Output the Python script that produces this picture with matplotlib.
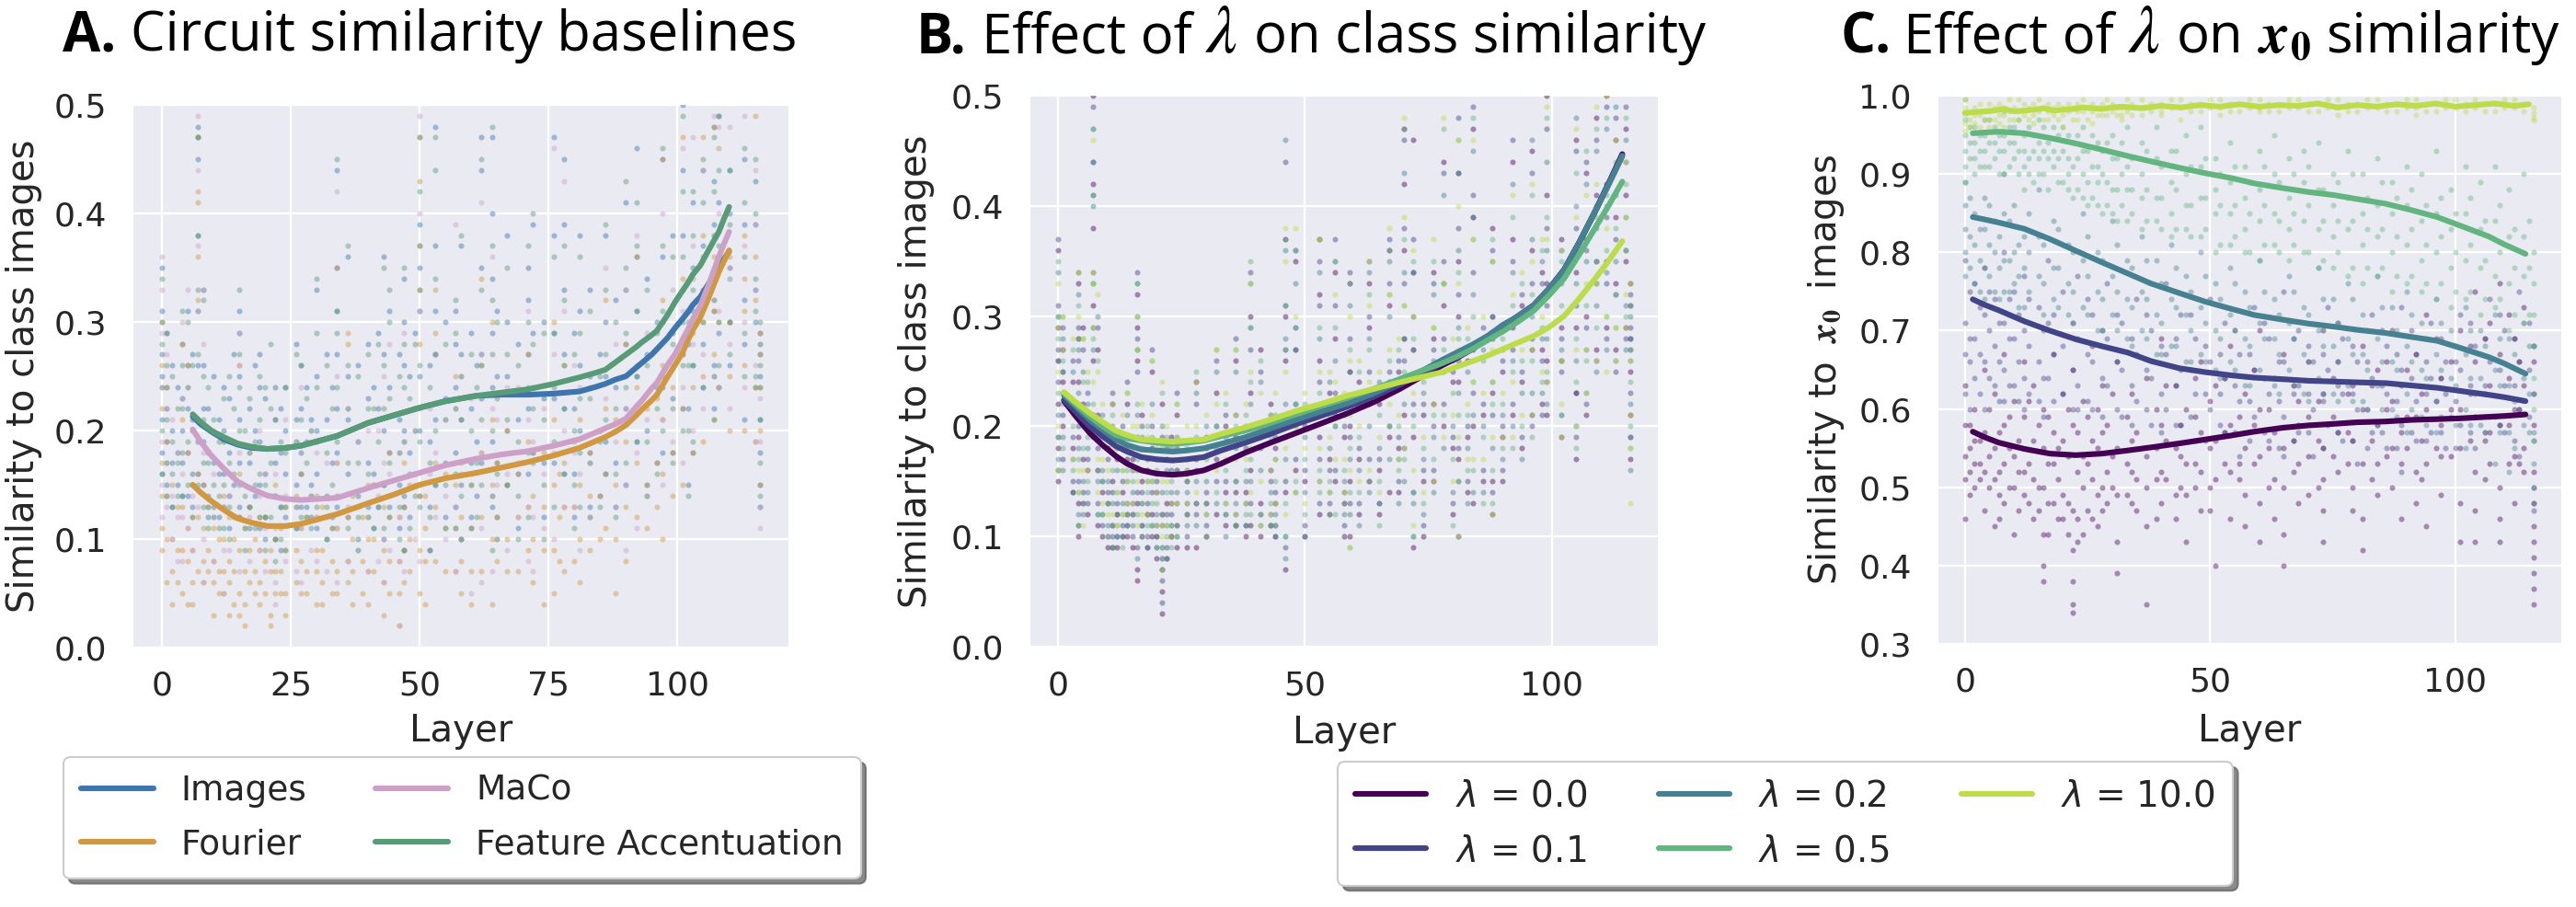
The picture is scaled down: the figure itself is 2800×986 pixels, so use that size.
# Similarity panels A, B, C - layer vs similarity with smoothed trend lines
import matplotlib
matplotlib.use("Agg")
import matplotlib.pyplot as plt

W, H = 2800, 986

##############
## Panel A trend lines
##############
a_layers = [6, 7.5, 9.6, 12, 14.7, 17.5, 20.5, 24, 27, 34, 40, 45, 50, 55, 61, 66, 71, 76, 81, 84, 86, 88, 90, 92, 93, 95, 96, 98, 99.6, 101, 102, 103, 104.4, 106, 108, 109, 110]
images_line = [.213, .206, .199, .192, .187, .184, .183, .184, .186, .195, .207, .214, .221, .227, .232, .233, .233, .234, .236, .240, .243, .247, .250, .258, .262, .270, .275, .285, .295, .303, .309, .316, .323, .335, .350, .358, .365]
fourier_line = [.150, .143, .135, .127, .119, .115, .112, .112, .114, .123, .133, .141, .150, .156, .161, .166, .171, .177, .184, .190, .194, .199, .205, .214, .219, .228, .233, .249, .261, .272, .283, .293, .304, .322, .346, .356, .366]
maco_line = [.201, .190, .177, .165, .153, .146, .140, .137, .136, .138, .147, .154, .161, .168, .174, .178, .181, .186, .192, .198, .202, .206, .211, .222, .227, .239, .244, .260, .271, .284, .293, .303, .315, .334, .360, .372, .383]
accent_line = [.215, .208, .200, .194, .188, .185, .183, .184, .186, .195, .207, .214, .221, .227, .232, .235, .238, .243, .249, .253, .256, .263, .270, .277, .281, .288, .292, .306, .319, .329, .336, .344, .352, .366, .383, .395, .406]

##############
## Panel A points, layer: values
##############
images_pts = {
    0: [.35, .31, .27, .25, .21, .18, .16], 1: [.29, .24, .22, .19, .15], 4: [.28, .23, .20, .17, .14],
    5: [.31, .26, .22, .18, .14], 7: [.48, .47, .45, .38, .31, .26, .19, .16], 8: [.33, .26, .22, .19, .15],
    12: [.24, .20, .16, .13], 15: [.31, .29, .25, .21, .17, .13], 19: [.27, .24, .19, .15, .11],
    22: [.24, .21, .17, .14, .10], 24: [.24, .20, .16, .12], 27: [.26, .22, .18, .13], 30: [.33, .25, .20, .16, .11],
    34: [.44, .35, .31, .27, .22, .18, .13], 36: [.36, .25, .21, .16, .12], 40: [.28, .23, .17, .13],
    43: [.36, .27, .20, .15, .10], 44: [.31, .24, .18, .13], 47: [.34, .30, .26, .20, .14, .09],
    50: [.39, .35, .31, .25, .20, .14], 53: [.48, .37, .31, .27, .21, .15], 57: [.31, .28, .24, .18, .13],
    58: [.37, .27, .21, .15, .10], 62: [.47, .44, .35, .27, .23, .17], 64: [.47, .40, .34, .29, .24, .19, .13],
    67: [.38, .30, .25, .20, .15], 71: [.35, .32, .27, .22, .16], 72: [.39, .29, .24, .18], 76: [.47, .38, .29, .23, .17],
    78: [.45, .39, .33, .27, .22, .16], 81: [.38, .31, .26, .20], 86: [.38, .30, .25, .19], 90: [.41, .33, .28, .22, .15],
    92: [.46, .36, .31, .25, .19], 97: [.45, .36, .30, .24, .18], 101: [.50, .44, .38, .33, .27, .22],
    103: [.41, .35, .31, .26, .18], 105: [.44, .37, .33, .28, .24], 107: [.48, .43, .39, .31, .26, .22],
    108: [.49, .41, .36, .29, .24], 110: [.44, .40, .35, .30, .26], 113: [.45, .39, .32, .28, .21],
    115: [.43, .39, .33, .30, .24], 116: [.29, .27, .25, .21, .18, .15, .13],
}
images_more = {
    2: [.26, .20, .17, .13], 3: [.24, .18, .15], 6: [.27, .21, .16, .13], 9: [.22, .18, .14, .12], 10: [.25, .17, .13],
    11: [.21, .16, .12], 13: [.23, .18, .14, .11], 14: [.27, .19, .15], 17: [.22, .17, .13, .11], 18: [.26, .20, .14],
    20: [.23, .16, .12, .10], 23: [.22, .18, .13, .09], 26: [.28, .21, .15, .11], 28: [.24, .19, .13], 29: [.21, .15, .12],
    32: [.27, .21, .14, .10], 33: [.24, .17, .12], 38: [.26, .19, .14, .10], 41: [.24, .16, .11], 42: [.29, .22, .13],
    46: [.27, .21, .15, .11], 48: [.25, .18, .12], 49: [.29, .22, .16], 52: [.26, .19, .13, .09], 55: [.30, .23, .17, .12],
    60: [.29, .22, .17, .12], 61: [.26, .19, .14], 65: [.31, .25, .17, .12], 69: [.28, .21, .16, .11], 74: [.30, .23, .17, .12],
    80: [.29, .22, .16, .12], 83: [.33, .25, .18, .13], 85: [.27, .20, .14], 88: [.32, .24, .17, .13], 94: [.34, .27, .20, .15],
    96: [.30, .24, .17], 99: [.38, .29, .23, .18], 102: [.31, .28, .22, .15],
}
fourier_pts = {
    0: [.30, .26, .22, .17, .14, .11, .09], 1: [.24, .19, .14, .10, .06], 4: [.28, .21, .13, .09, .05],
    5: [.26, .18, .11, .08, .04], 7: [.47, .42, .41, .36, .32, .16, .12, .07], 8: [.15, .11, .08, .06],
    12: [.14, .10, .07, .05], 15: [.26, .16, .12, .09, .05, .03], 19: [.12, .09, .06, .04], 22: [.15, .10, .07, .05],
    24: [.13, .09, .05, .03], 27: [.16, .11, .08, .05], 30: [.14, .12, .09, .07, .04], 34: [.35, .17, .11, .07, .05],
    36: [.29, .28, .12, .08, .06], 40: [.15, .10, .07, .04], 43: [.13, .09, .06, .03], 44: [.18, .12, .08, .05],
    47: [.17, .13, .09, .06], 50: [.47, .43, .37, .33, .28, .14, .09, .05], 53: [.33, .29, .17, .13, .08],
    57: [.25, .15, .11, .07], 58: [.17, .12, .08, .05], 62: [.34, .26, .18, .12, .07], 64: [.30, .21, .15, .10, .04],
    67: [.20, .15, .10, .07], 71: [.27, .19, .13, .09], 72: [.18, .14, .10, .06], 76: [.30, .21, .15, .09, .05],
    78: [.26, .17, .13, .07], 81: [.21, .15, .10, .06], 86: [.32, .22, .16, .11], 90: [.28, .19, .13, .08],
    92: [.36, .24, .17, .12], 97: [.45, .32, .26, .21, .16, .10], 101: [.47, .34, .27, .22, .15], 103: [.34, .29, .24, .18],
    105: [.47, .38, .30, .25, .19], 107: [.48, .36, .31, .27, .21], 108: [.46, .35, .30, .24], 110: [.36, .30, .25, .20],
    113: [.38, .34, .31, .26, .20], 115: [.49, .36, .32, .24, .19], 116: [.29, .27, .24, .20, .15],
}
fourier_more = {
    2: [.15, .10, .07, .04], 3: [.13, .09, .06], 6: [.12, .09, .06, .04], 9: [.13, .09, .07], 10: [.11, .08, .06, .03],
    11: [.10, .07, .05], 13: [.12, .08, .06, .03], 14: [.10, .07, .04], 16: [.11, .07, .04, .02], 17: [.13, .09, .06],
    18: [.10, .07, .05], 20: [.12, .08, .05], 21: [.09, .07, .03, .02], 23: [.11, .07, .05], 26: [.14, .09, .06],
    28: [.12, .07, .05], 31: [.13, .09, .06, .04], 33: [.11, .08, .05], 37: [.14, .10, .07, .04], 39: [.12, .08, .05],
    41: [.15, .10, .07], 46: [.12, .08, .05, .02], 48: [.15, .10, .07], 51: [.14, .11, .08, .04], 55: [.16, .11, .07],
    60: [.15, .11, .07, .04], 65: [.17, .12, .08], 69: [.16, .12, .07], 74: [.18, .13, .09, .04], 77: [.16, .12, .08],
    80: [.19, .13, .08], 83: [.18, .14, .09], 85: [.20, .14, .10], 88: [.21, .15, .10, .05], 94: [.22, .15, .11],
    96: [.23, .17, .13], 99: [.24, .18, .14],
}
maco_pts = {
    0: [.36, .33, .29, .24, .19, .15, .12], 1: [.27, .22, .17, .13], 4: [.30, .23, .16, .12, .08], 5: [.33, .24, .18, .11],
    7: [.49, .44, .37, .31, .19, .13], 8: [.33, .28, .18, .10, .06], 12: [.19, .13, .09, .05], 15: [.29, .26, .18, .12, .07],
    19: [.20, .14, .09], 22: [.16, .11, .06, .04], 24: [.21, .14, .08], 27: [.24, .16, .11, .06], 30: [.18, .12, .08],
    34: [.42, .25, .17, .11, .06], 36: [.22, .13, .08], 40: [.20, .12, .07], 43: [.25, .17, .10, .06], 44: [.28, .16, .09],
    47: [.29, .19, .13, .07], 50: [.49, .40, .31, .22, .15, .08], 53: [.27, .18, .12], 57: [.39, .22, .13, .07],
    58: [.25, .16, .10], 62: [.41, .27, .18, .11, .06], 64: [.36, .22, .14, .07], 67: [.24, .16, .09], 71: [.31, .21, .13, .08],
    72: [.19, .12, .07], 76: [.46, .27, .18, .10], 78: [.43, .31, .20, .13], 81: [.24, .16, .09], 86: [.35, .23, .16],
    90: [.33, .22, .15, .09], 92: [.38, .26, .18, .11], 97: [.40, .30, .21, .15], 101: [.46, .31, .24, .17],
    103: [.47, .37, .28, .20], 105: [.44, .33, .27, .22], 107: [.49, .38, .32, .25], 108: [.48, .40, .31, .24],
    110: [.48, .35, .28, .22], 113: [.49, .37, .30, .24], 115: [.44, .39, .33, .26, .19], 116: [.28, .23, .19, .13, .11],
}
maco_more = {
    2: [.21, .14, .10], 3: [.18, .12, .08], 6: [.20, .14, .09], 10: [.16, .12, .08], 13: [.19, .14, .09], 17: [.18, .12, .08],
    20: [.16, .11, .07], 26: [.19, .13, .07], 29: [.20, .14, .09], 32: [.17, .12, .07], 38: [.19, .13, .09], 42: [.20, .14, .08],
    46: [.18, .12, .08, .02], 49: [.20, .15, .10], 52: [.22, .16, .09], 55: [.21, .14, .10], 60: [.23, .16, .11, .05],
    65: [.21, .15, .10], 69: [.24, .17, .12], 74: [.22, .16, .11], 80: [.26, .18, .13], 83: [.24, .17, .12], 88: [.28, .19, .13],
    94: [.29, .21, .14], 99: [.33, .26, .19],
}
accent_pts = {
    0: [.34, .30, .28, .24, .20, .16], 1: [.29, .26, .21, .17, .14], 4: [.31, .26, .22, .18, .14], 5: [.30, .24, .19, .15],
    7: [.47, .38, .33, .27, .21, .15], 8: [.32, .25, .21, .17, .13], 12: [.23, .19, .15, .11], 15: [.33, .27, .24, .20, .15, .12],
    19: [.25, .21, .16, .12], 21: [.28, .22, .17, .12], 24: [.24, .18, .13, .09], 27: [.26, .21, .16, .12],
    30: [.34, .29, .24, .19, .13], 34: [.45, .31, .29, .24, .19, .14], 36: [.37, .26, .22, .17, .11], 40: [.27, .22, .16, .12],
    43: [.35, .26, .22, .15, .11], 44: [.33, .30, .23, .17, .12], 47: [.35, .28, .24, .19, .13, .09], 50: [.47, .42, .37, .33, .26, .19, .13],
    53: [.47, .44, .34, .27, .20, .15], 57: [.32, .29, .22, .16, .11], 58: [.38, .25, .21, .14, .10], 62: [.45, .33, .26, .21, .15],
    64: [.48, .37, .32, .27, .20, .14, .09], 67: [.35, .27, .21, .15], 71: [.37, .30, .24, .18, .12], 72: [.40, .28, .22, .17],
    76: [.36, .29, .24, .19, .13], 78: [.37, .32, .26, .22, .16], 81: [.36, .29, .23, .18, .13], 86: [.39, .33, .27, .21, .16],
    90: [.43, .35, .29, .24, .17], 92: [.41, .37, .31, .25, .19], 97: [.46, .37, .31, .25, .20], 101: [.49, .42, .36, .30, .26, .20],
    103: [.42, .38, .33, .26, .19], 105: [.45, .41, .36, .30, .24], 107: [.47, .42, .38, .32, .25, .21], 108: [.49, .44, .37, .30, .26],
    110: [.44, .39, .34, .30, .27], 113: [.46, .41, .36, .29, .25], 115: [.45, .40, .34, .31, .25], 116: [.30, .28, .26, .24, .21, .17, .14],
}
accent_more = {
    2: [.25, .19, .16, .13], 3: [.22, .17, .14], 6: [.26, .20, .15, .12], 9: [.24, .17, .13, .11], 10: [.21, .15, .12],
    11: [.19, .14, .11], 13: [.25, .17, .13, .10], 14: [.22, .16, .12], 16: [.20, .14, .11, .09], 17: [.23, .18, .13],
    18: [.19, .15, .11], 20: [.24, .15, .12, .09], 22: [.21, .14, .10, .08], 23: [.19, .13, .10], 26: [.27, .19, .13, .11],
    28: [.23, .17, .12], 29: [.20, .14, .11], 32: [.26, .18, .13, .10], 33: [.22, .15, .11], 38: [.25, .17, .12, .09],
    41: [.22, .15, .11], 42: [.28, .19, .13], 46: [.25, .18, .13, .10], 48: [.23, .16, .11], 49: [.28, .20, .14],
    52: [.24, .17, .12, .09], 55: [.28, .21, .15, .11], 60: [.27, .20, .15, .11], 61: [.24, .17, .12], 65: [.30, .23, .16, .10],
    69: [.26, .19, .14, .10], 74: [.29, .21, .15, .10], 80: [.27, .20, .15, .11], 83: [.31, .23, .17, .12], 85: [.25, .19, .13],
    88: [.30, .22, .16, .12], 94: [.33, .26, .19, .14], 96: [.29, .22, .16], 99: [.36, .28, .22, .17], 102: [.30, .26, .20, .14],
}

##############
## Panel B trend lines
##############
b_layers = [1.2, 3.8, 6.4, 9, 11.7, 14, 16.9, 20, 23.2, 26, 29.5, 33, 37.9, 43, 48.3, 53, 58.8, 64, 69.3, 74, 77.7, 80.8, 83.9, 87, 90.1, 93.2, 96.4, 99.5, 102.5, 105.6, 108.8, 111.5, 114.3]
b_lam0_line = [.223, .208, .194, .183, .173, .166, .160, .157, .156, .157, .160, .166, .176, .185, .194, .202, .212, .222, .234, .246, .255, .262, .270, .280, .290, .300, .310, .325, .342, .367, .395, .420, .447]
b_lam1_line = [.224, .212, .200, .191, .182, .177, .172, .170, .169, .170, .172, .178, .185, .193, .202, .209, .218, .227, .238, .248, .257, .264, .272, .281, .291, .300, .310, .325, .342, .367, .395, .420, .446]
b_lam2_line = [.228, .217, .206, .197, .188, .183, .179, .178, .177, .178, .180, .184, .190, .198, .206, .213, .221, .230, .241, .251, .260, .267, .274, .282, .292, .300, .310, .325, .342, .367, .395, .419, .445]
b_lam5_line = [.230, .219, .209, .200, .192, .189, .187, .185, .184, .185, .187, .191, .196, .203, .211, .218, .226, .234, .243, .251, .257, .263, .270, .278, .286, .295, .305, .319, .334, .356, .380, .400, .422]
b_lam10_line = [.231, .221, .212, .204, .196, .192, .188, .187, .186, .187, .188, .193, .199, .206, .214, .220, .228, .234, .240, .245, .249, .254, .259, .264, .270, .276, .282, .290, .300, .316, .334, .350, .368]

##############
## Panel B points, layer: values
##############
b_lam0_pts = {
    0: [.36, .29, .26, .22, .18, .15], 1: [.27, .24, .20], 4: [.33, .28, .24, .19, .13, .10], 5: [.29, .22, .17, .13],
    7: [.50, .42, .38, .31, .26, .21], 8: [.27, .21, .16, .11], 11: [.22, .15, .11, .09], 14: [.22, .17, .12, .10],
    16: [.32, .29, .26, .18, .13, .07, .06], 19: [.25, .18, .12, .10], 21: [.22, .12, .07, .05, .03], 24: [.21, .16, .11, .09],
    28: [.24, .17, .13, .09], 32: [.23, .17, .12], 36: [.26, .19, .14, .11], 39: [.30, .23, .16, .11], 41: [.27, .20, .13, .10],
    46: [.37, .30, .26, .20, .14, .07], 48: [.35, .27, .21, .16], 53: [.37, .32, .26, .19, .12], 56: [.34, .28, .21, .15],
    59: [.33, .25, .20, .15, .10], 63: [.33, .29, .22, .15], 67: [.36, .31, .24, .19, .14], 70: [.47, .42, .36, .28, .21],
    72: [.46, .34, .27, .19, .09], 76: [.34, .28, .22, .15], 78: [.44, .31, .26, .20], 81: [.43, .35, .30, .24, .17, .10],
    84: [.47, .39, .27, .20, .13], 88: [.38, .30, .23, .15, .12], 92: [.44, .37, .29, .21], 96: [.45, .36, .27, .21],
    99: [.50, .41, .33, .26, .21], 102: [.37, .29, .26, .19], 105: [.46, .34, .29, .23, .17], 107: [.43, .37, .30, .21],
    109: [.48, .41, .35, .27], 111: [.50, .42, .35, .29], 113: [.46, .39, .33, .27], 115: [.47, .41, .35, .29],
    116: [.33, .31, .28, .25, .21, .17],
}
b_lam0_more = {
    3: [.24, .18, .14], 6: [.21, .16, .12], 9: [.20, .14, .10], 10: [.18, .13, .09], 12: [.17, .12, .09], 13: [.19, .14, .10],
    15: [.17, .12, .09], 17: [.21, .15, .10], 18: [.16, .12, .09], 20: [.14, .10, .08], 22: [.17, .13, .08], 23: [.19, .13, .10],
    26: [.15, .12, .09], 30: [.18, .13, .10], 34: [.20, .14, .11], 38: [.19, .14, .10], 43: [.22, .16, .11], 44: [.18, .13, .10],
    50: [.20, .15, .10], 55: [.23, .17, .12], 58: [.19, .13, .10], 61: [.24, .17, .12], 65: [.22, .16, .12], 69: [.25, .18, .14],
    74: [.21, .15, .10], 80: [.24, .18, .12], 83: [.26, .19, .14], 86: [.28, .21, .15], 90: [.25, .19, .15], 94: [.31, .24, .18],
    98: [.34, .27, .22],
}
b_lam1_pts = {
    0: [.37, .31, .27, .24, .19, .16], 1: [.29, .25, .21, .17], 4: [.34, .29, .26, .20, .15, .11], 5: [.27, .21, .14],
    7: [.49, .44, .41, .34, .29, .19], 8: [.29, .18, .13], 11: [.23, .14, .10], 14: [.24, .18, .13, .11], 16: [.34, .28, .25, .19, .14, .09],
    19: [.27, .20, .14], 21: [.19, .11, .08, .06, .04], 24: [.23, .18, .13], 28: [.22, .16, .12], 32: [.26, .20, .15],
    36: [.28, .21, .15, .12], 39: [.34, .27, .20, .13], 41: [.25, .18, .12], 46: [.44, .31, .27, .21, .15, .09],
    48: [.36, .29, .22, .17], 53: [.35, .31, .24, .17, .13], 56: [.37, .31, .23, .16], 59: [.34, .28, .19, .13],
    63: [.35, .30, .25, .17], 67: [.37, .33, .25, .20], 70: [.46, .38, .33, .26, .18], 72: [.37, .30, .22, .14],
    76: [.33, .27, .20, .16], 78: [.43, .35, .28, .22], 81: [.48, .38, .32, .26, .18], 84: [.49, .41, .34, .23],
    88: [.36, .28, .21, .14], 92: [.46, .35, .27, .22], 96: [.43, .33, .28, .20], 99: [.47, .38, .31, .24],
    102: [.36, .28, .25], 105: [.45, .38, .31, .23, .19], 107: [.44, .36, .29, .22], 109: [.46, .40, .33, .26],
    111: [.49, .39, .33, .28], 113: [.48, .37, .32, .25], 115: [.49, .44, .36, .28], 116: [.32, .29, .27, .23, .19],
}
b_lam1_more = {
    3: [.26, .19, .15], 6: [.23, .17, .13], 9: [.19, .15, .11], 10: [.17, .14, .10], 12: [.18, .13, .10], 13: [.20, .15, .11],
    15: [.16, .13, .10], 17: [.20, .14, .11], 18: [.17, .13, .10], 20: [.15, .11, .09], 22: [.18, .12, .09], 23: [.16, .12, .10],
    26: [.16, .13, .10], 30: [.19, .14, .11], 34: [.21, .15, .12], 38: [.18, .13, .11], 43: [.21, .15, .12], 44: [.19, .14, .11],
    50: [.21, .16, .11], 55: [.22, .16, .13], 58: [.20, .14, .11], 61: [.23, .18, .13], 65: [.23, .17, .13], 69: [.26, .19, .15],
    74: [.22, .16, .11], 80: [.25, .19, .13], 83: [.27, .20, .15], 86: [.29, .22, .16], 90: [.26, .20, .16], 94: [.32, .25, .19],
    98: [.33, .26, .21],
}
b_lam2_pts = {
    0: [.34, .30, .26, .21, .17], 1: [.28, .25, .19, .16], 4: [.32, .27, .23, .18, .12], 5: [.25, .20, .15, .12],
    7: [.47, .44, .40, .33, .27, .20], 8: [.30, .19, .15, .12], 11: [.20, .13, .09], 14: [.21, .15, .11], 16: [.33, .30, .27, .21, .16, .08],
    19: [.22, .15, .11], 21: [.20, .14, .09, .07], 24: [.19, .14, .10], 28: [.23, .15, .11], 32: [.25, .18, .13], 36: [.25, .18, .13, .11],
    39: [.33, .29, .22, .15], 41: [.24, .16, .11], 46: [.46, .36, .28, .22, .17, .10, .08], 48: [.33, .27, .20, .14],
    53: [.34, .28, .21, .15], 56: [.35, .26, .20], 59: [.31, .25, .17, .12], 63: [.34, .28, .20, .14], 67: [.35, .30, .23, .17],
    70: [.43, .34, .28, .22, .15], 72: [.34, .27, .21, .13, .10], 76: [.32, .26, .19, .14], 78: [.41, .33, .25, .18],
    81: [.43, .36, .29, .23, .15], 84: [.45, .39, .32, .21, .14], 88: [.35, .30, .24, .18], 92: [.42, .34, .26, .20],
    96: [.46, .37, .30, .23], 99: [.44, .36, .28, .22], 102: [.33, .27, .21], 105: [.48, .40, .33, .26, .20],
    107: [.42, .35, .27, .23], 109: [.45, .38, .31, .25], 111: [.47, .40, .34, .27], 113: [.49, .41, .35, .26], 115: [.46, .39, .31, .27],
    116: [.30, .28, .26, .22, .19, .16],
}
b_lam2_more = {
    3: [.25, .17, .14], 6: [.22, .18, .14], 9: [.21, .16, .12], 10: [.19, .15, .11], 12: [.16, .12, .10], 13: [.18, .13, .10],
    15: [.18, .14, .11], 17: [.19, .13, .11], 18: [.15, .12, .09], 20: [.17, .12, .10], 22: [.16, .11, .08], 23: [.18, .14, .11],
    26: [.17, .14, .11], 30: [.20, .15, .12], 34: [.19, .13, .10], 38: [.20, .15, .11], 43: [.20, .14, .11], 44: [.17, .12, .10],
    50: [.19, .14, .10], 55: [.24, .18, .14], 58: [.21, .15, .12], 61: [.22, .16, .11], 65: [.24, .18, .13], 69: [.24, .17, .13],
    74: [.23, .17, .12], 80: [.26, .20, .14], 83: [.25, .18, .13], 86: [.27, .20, .14], 90: [.27, .21, .17], 94: [.30, .23, .17],
    98: [.35, .28, .23],
}
b_lam5_pts = {
    0: [.35, .30, .28, .23, .19, .16], 1: [.30, .26, .22, .18], 4: [.31, .28, .22, .17, .14, .11], 5: [.28, .24, .18, .13],
    7: [.47, .41, .33, .28, .22], 8: [.26, .20, .16, .12], 11: [.21, .16, .11, .09], 14: [.23, .16, .12], 16: [.33, .27, .22, .17, .12],
    19: [.26, .19, .13, .11], 21: [.23, .18, .12, .09, .08], 24: [.22, .16, .11, .10], 28: [.25, .19, .13], 32: [.27, .20, .14],
    36: [.27, .20, .15, .11], 39: [.35, .29, .24, .17, .12], 41: [.26, .19, .12], 46: [.37, .31, .27, .19, .13, .10],
    48: [.36, .29, .22, .15], 53: [.37, .29, .23, .16, .14], 56: [.35, .29, .20, .12], 59: [.33, .27, .18, .14, .09],
    63: [.32, .27, .22, .15], 67: [.36, .32, .26, .20], 70: [.47, .37, .31, .25, .17], 72: [.35, .28, .20, .14, .10],
    76: [.35, .29, .21, .17], 78: [.47, .33, .27, .21], 81: [.46, .34, .28, .21, .15], 84: [.48, .37, .30, .24, .16],
    88: [.37, .28, .22, .16, .13], 92: [.39, .31, .25, .18], 96: [.41, .32, .26, .19], 99: [.48, .39, .32, .25],
    102: [.35, .31, .26, .21], 105: [.43, .36, .28, .24, .18], 107: [.45, .38, .31, .26], 109: [.47, .39, .35, .29],
    111: [.48, .41, .36, .30], 113: [.44, .38, .32, .29], 115: [.48, .42, .36, .30], 116: [.31, .27, .24, .20, .18],
}
b_lam5_more = {
    3: [.27, .20, .16], 6: [.24, .19, .15], 9: [.20, .15, .12], 10: [.18, .13, .10], 12: [.19, .14, .11], 13: [.16, .12, .09],
    15: [.19, .15, .12], 17: [.18, .13, .10], 18: [.20, .14, .11], 20: [.16, .13, .09], 22: [.19, .14, .10], 23: [.15, .11, .09],
    26: [.18, .15, .12], 30: [.17, .13, .10], 34: [.22, .16, .12], 38: [.21, .16, .12], 43: [.19, .13, .11], 44: [.21, .15, .11],
    50: [.22, .17, .12], 55: [.21, .15, .12], 58: [.22, .16, .13], 61: [.25, .19, .14], 65: [.21, .15, .11], 69: [.27, .20, .16],
    74: [.24, .18, .13], 80: [.23, .17, .11], 83: [.28, .21, .16], 86: [.26, .19, .13], 90: [.28, .22, .18], 94: [.33, .26, .20],
    98: [.36, .29, .24],
}
b_lam10_pts = {
    0: [.33, .29, .25, .20, .16], 1: [.30, .27, .23], 4: [.34, .30, .22, .16, .14], 5: [.28, .21, .16, .11],
    7: [.46, .34, .33, .29, .24], 8: [.32, .25, .17, .14], 11: [.22, .18, .12], 14: [.23, .15, .13], 16: [.30, .27, .20, .15, .11],
    19: [.26, .21, .15], 21: [.24, .15, .11, .10, .07], 24: [.22, .19, .13], 28: [.24, .20, .14], 32: [.27, .22, .16],
    36: [.27, .21, .17, .12], 39: [.33, .25, .18, .14], 41: [.23, .15, .11], 46: [.38, .35, .25, .18, .12],
    48: [.38, .30, .20, .14], 53: [.37, .25, .18, .15], 56: [.32, .24, .17], 59: [.30, .26, .21, .16, .09],
    63: [.35, .31, .24, .16], 67: [.38, .32, .27, .22], 70: [.48, .39, .31, .24, .18], 72: [.36, .30, .23, .16, .11],
    76: [.37, .29, .22, .15], 78: [.48, .33, .26, .19], 81: [.46, .40, .33, .27, .19, .10], 84: [.46, .37, .24, .17],
    88: [.35, .27, .24, .19, .12], 92: [.41, .32, .24, .19], 96: [.42, .35, .27, .21], 99: [.49, .37, .29, .24],
    102: [.36, .26, .22, .19], 105: [.47, .39, .27, .20], 107: [.41, .33, .27, .23], 109: [.49, .42, .33, .26],
    111: [.50, .38, .30, .25], 113: [.46, .36, .29, .26], 115: [.44, .39, .32, .29], 116: [.33, .26, .21, .18, .13],
}
b_lam10_more = {
    3: [.28, .21, .17], 6: [.25, .20, .16], 9: [.22, .17, .13], 10: [.20, .16, .12], 12: [.18, .14, .11], 13: [.21, .16, .12],
    15: [.20, .16, .13], 17: [.22, .16, .12], 18: [.19, .15, .12], 20: [.18, .14, .11], 22: [.20, .15, .11], 23: [.17, .13, .10],
    26: [.20, .16, .13], 30: [.21, .16, .12], 34: [.23, .17, .13], 38: [.22, .17, .13], 43: [.21, .16, .12], 44: [.23, .17, .13],
    50: [.23, .18, .13], 55: [.25, .19, .14], 58: [.23, .17, .14], 61: [.26, .20, .15], 65: [.25, .19, .14], 69: [.28, .21, .17],
    74: [.25, .19, .14], 80: [.28, .21, .15], 83: [.29, .22, .17], 86: [.30, .23, .17], 90: [.29, .23, .19], 94: [.34, .27, .21],
    98: [.37, .30, .25],
}

##############
## Panel C trend lines
##############
c_layers = [1.6, 4, 6.9, 9.5, 12.1, 17.3, 22.6, 28, 33.2, 38, 43.7, 49, 54.2, 59, 64.8, 70, 75.3, 80, 85.8, 91, 96.3, 101, 106.9, 110, 114.3]
c_lam0_line = [.571, .564, .557, .553, .549, .543, .541, .543, .547, .551, .556, .561, .566, .571, .576, .579, .581, .583, .584, .586, .587, .588, .590, .591, .593]
c_lam1_line = [.740, .733, .726, .719, .712, .700, .689, .680, .672, .661, .652, .647, .643, .640, .638, .636, .635, .634, .633, .630, .627, .623, .618, .615, .610]
c_lam2_line = [.845, .842, .838, .834, .830, .817, .802, .787, .773, .760, .748, .737, .728, .720, .714, .709, .705, .701, .697, .692, .687, .678, .666, .658, .645]
c_lam5_line = [.952, .953, .954, .953, .952, .946, .939, .931, .923, .916, .908, .901, .895, .888, .882, .877, .873, .868, .862, .854, .845, .834, .820, .810, .798]
c_lam10_layers = [0, 2, 4, 6, 8, 10, 12, 14, 16, 18, 20, 22, 24, 26, 28, 30, 32, 36, 40, 44, 48, 52, 56, 60, 64, 68, 72, 76, 80, 84, 88, 92, 96, 100, 104, 108, 112, 115]
c_lam10_line = [.978, .979, .980, .981, .983, .980, .981, .982, .984, .981, .982, .983, .985, .984, .983, .985, .986, .984, .987, .985, .988, .986, .989, .986, .988, .987, .990, .985, .988, .986, .989, .987, .990, .986, .988, .990, .987, .989]

##############
## Panel C points, layer: values
##############
c_lam0_pts = {
    0: [.63, .58, .54, .51, .46], 2: [.60, .56, .53, .50], 4: [.65, .57, .52, .47], 6: [.62, .55, .51, .45],
    8: [.67, .58, .53, .48], 10: [.61, .54, .50, .44], 12: [.66, .59, .52, .49], 14: [.63, .56, .51, .46],
    16: [.60, .55, .50, .44, .40, .38], 18: [.67, .57, .53, .48], 20: [.62, .56, .49, .46], 22: [.65, .58, .47, .42, .38, .35, .34],
    24: [.61, .54, .50, .44], 26: [.68, .56, .51, .46], 28: [.63, .57, .50, .47], 31: [.66, .55, .49, .43, .39], 34: [.62, .56, .52, .48],
    37: [.64, .54, .50, .45, .35], 40: [.69, .58, .52, .48], 43: [.63, .55, .49, .46], 45: [.60, .53, .49, .43],
    48: [.66, .57, .52, .47], 51: [.63, .56, .51, .40], 54: [.68, .58, .52, .46], 57: [.62, .55, .49, .45],
    60: [.70, .60, .54, .48, .43], 63: [.64, .57, .51, .46], 65: [.67, .55, .50, .44, .40], 68: [.61, .58, .53, .48],
    73: [.70, .62, .55, .51, .47, .43], 76: [.66, .57, .52], 79: [.63, .56, .50, .47], 81: [.68, .60, .53, .46, .42],
    84: [.65, .58, .53, .49], 87: [.70, .61, .55, .50], 89: [.63, .57, .53, .46], 92: [.67, .59, .52, .48],
    94: [.72, .60, .53, .45], 97: [.64, .58, .54, .49], 101: [.70, .60, .55, .48, .43], 104: [.75, .66, .59, .52, .47, .43],
    107: [.71, .63, .57, .53], 109: [.76, .67, .58, .50, .46, .43], 112: [.69, .60, .54, .48], 114: [.73, .63, .55, .52],
    116: [.66, .58, .52, .48, .45, .43, .41, .39, .37, .35],
}
c_lam0_more = {
    1: [.58, .55, .52, .49], 3: [.56, .53, .51], 5: [.60, .54, .50], 7: [.57, .52, .49, .46], 9: [.59, .55, .50], 11: [.56, .52, .47],
    13: [.61, .53, .48], 15: [.58, .50, .47], 17: [.59, .53, .48, .44], 19: [.55, .51, .46], 21: [.60, .54, .48, .44],
    23: [.57, .52, .46, .43], 25: [.59, .53, .47], 27: [.60, .55, .49, .45], 29: [.58, .52, .48], 30: [.62, .54, .50],
    33: [.59, .53, .49], 35: [.57, .51, .47], 39: [.60, .55, .51, .46], 41: [.63, .56, .51], 44: [.58, .54, .50],
    47: [.64, .59, .53, .50], 50: [.61, .55, .50, .47], 53: [.64, .57, .53], 56: [.59, .53, .51], 59: [.65, .58, .53],
    62: [.60, .55, .50], 67: [.63, .56, .52], 70: [.66, .59, .54, .49], 72: [.61, .56, .50], 75: [.64, .59, .54],
    78: [.62, .57, .53], 83: [.63, .56, .51], 86: [.66, .60, .54], 90: [.65, .59, .55], 93: [.62, .56, .51], 96: [.69, .61, .55],
    99: [.66, .60, .54], 103: [.68, .62, .56], 106: [.69, .62, .56, .51], 111: [.72, .64, .58, .53], 113: [.66, .60, .53],
}
c_lam1_pts = {
    0: [.79, .71, .67, .62], 2: [.76, .69, .64], 4: [.78, .72, .66, .60], 6: [.74, .68, .63], 8: [.80, .71, .65, .61],
    10: [.75, .69, .63], 12: [.77, .70, .64, .60], 15: [.73, .66, .61], 17: [.79, .71, .64], 20: [.75, .68, .62],
    23: [.77, .69, .63, .60], 26: [.72, .66, .60], 29: [.76, .69, .63], 32: [.71, .65, .59], 35: [.74, .67, .61],
    38: [.70, .64, .58], 41: [.76, .67, .60], 44: [.72, .65, .58], 47: [.69, .62, .56], 50: [.74, .66, .60],
    53: [.71, .64, .57], 56: [.67, .61, .54], 59: [.73, .65, .59], 62: [.69, .62, .56], 65: [.75, .66, .59, .54],
    68: [.70, .63, .57], 71: [.66, .60, .54], 74: [.73, .65, .58], 77: [.69, .62, .56], 80: [.66, .60, .53],
    83: [.72, .64, .57], 86: [.68, .62, .55], 89: [.73, .65, .58, .52], 92: [.67, .61, .56], 95: [.71, .64, .57],
    98: [.66, .62, .55], 101: [.72, .65, .58], 104: [.68, .62, .55], 107: [.74, .66, .59], 110: [.70, .63, .57],
    113: [.75, .66, .60, .54], 116: [.68, .62, .56, .50, .47],
}
c_lam1_more = {
    1: [.75, .69, .66, .60], 3: [.73, .67, .62], 5: [.75, .70, .64], 7: [.71, .66, .61], 9: [.74, .69, .63], 11: [.72, .66, .61],
    13: [.74, .68, .62], 16: [.70, .64, .59], 18: [.72, .67, .61], 22: [.71, .65, .60], 25: [.74, .67, .61], 28: [.70, .64, .59],
    31: [.72, .66, .60], 34: [.69, .63, .58], 37: [.72, .65, .60], 40: [.68, .62, .57], 43: [.69, .63, .58], 46: [.72, .65, .59],
    49: [.68, .62, .56], 52: [.67, .62, .58], 55: [.70, .63, .57], 58: [.67, .61, .56], 61: [.71, .64, .57], 64: [.66, .61, .55],
    67: [.69, .62, .56], 70: [.68, .62, .57], 73: [.67, .61, .55], 76: [.71, .63, .57], 79: [.68, .62, .56], 82: [.66, .60, .55],
    85: [.70, .63, .57], 88: [.67, .61, .55], 91: [.70, .64, .57], 94: [.66, .62, .56], 97: [.69, .64, .57], 100: [.66, .61, .55],
    103: [.71, .63, .57], 106: [.69, .63, .57], 109: [.72, .65, .58], 112: [.69, .63, .56], 115: [.71, .65, .59],
}
c_lam2_pts = {
    0: [.89, .86, .83, .80, .77], 2: [.85, .81, .76], 4: [.87, .83, .78, .74], 6: [.84, .80, .75], 8: [.90, .85, .79, .75],
    10: [.86, .80, .76], 12: [.82, .78, .73], 15: [.88, .82, .77], 18: [.84, .78, .74], 21: [.81, .76, .72], 24: [.85, .79, .73],
    27: [.80, .75, .70], 30: [.84, .77, .72], 33: [.79, .74, .69], 36: [.82, .75, .70], 39: [.79, .72, .67], 42: [.81, .74, .68],
    45: [.77, .72, .66], 48: [.80, .73, .67], 51: [.76, .70, .65], 54: [.78, .72, .66], 57: [.75, .69, .63], 60: [.79, .71, .65],
    63: [.74, .69, .63], 66: [.77, .71, .65], 69: [.73, .67, .62], 72: [.78, .70, .64], 75: [.74, .68, .62], 78: [.76, .69, .63],
    81: [.72, .67, .61], 84: [.77, .69, .63, .58], 87: [.73, .66, .60], 90: [.75, .68, .62, .57], 93: [.71, .65, .59],
    96: [.74, .67, .61, .57], 99: [.70, .64, .59], 102: [.73, .67, .60, .55], 105: [.70, .64, .58], 108: [.72, .65, .59, .53],
    111: [.69, .63, .57, .52], 114: [.71, .64, .58], 116: [.68, .62, .57, .53, .50, .48],
}
c_lam2_more = {
    1: [.87, .82, .78], 3: [.83, .79, .75], 5: [.86, .81, .77], 7: [.82, .78, .74], 9: [.84, .79, .75], 11: [.81, .77, .73],
    13: [.85, .80, .75], 16: [.81, .76, .72], 19: [.83, .78, .73], 22: [.80, .75, .71], 25: [.82, .77, .72], 28: [.79, .74, .70],
    31: [.81, .75, .70], 34: [.78, .73, .68], 37: [.79, .74, .69], 40: [.76, .71, .67], 43: [.78, .73, .68], 46: [.75, .70, .66],
    49: [.77, .71, .66], 52: [.74, .69, .64], 55: [.76, .70, .65], 58: [.73, .68, .63], 61: [.75, .69, .64], 64: [.72, .67, .62],
    67: [.75, .69, .63], 70: [.72, .66, .61], 73: [.74, .68, .62], 76: [.71, .66, .61], 79: [.74, .67, .61], 82: [.70, .65, .60],
    85: [.73, .66, .60], 88: [.70, .65, .59], 91: [.72, .66, .60], 94: [.69, .64, .58], 97: [.71, .65, .59], 100: [.68, .63, .58],
    103: [.70, .64, .58], 106: [.68, .62, .57], 109: [.69, .63, .57], 112: [.67, .61, .55], 115: [.68, .62, .57],
}
c_lam5_pts = {
    0: [.995, .97, .95, .93, .91, .89], 2: [.96, .94, .92, .90], 4: [.97, .95, .93, .91], 6: [.96, .94, .92], 8: [.98, .95, .93, .90],
    10: [.96, .94, .92], 12: [.95, .93, .91, .88], 15: [.97, .94, .92, .90], 18: [.96, .93, .91], 21: [.95, .92, .90, .88],
    24: [.96, .93, .90, .87], 27: [.94, .91, .89, .86], 30: [.95, .92, .88, .85], 33: [.96, .91, .88, .84], 36: [.94, .90, .87, .83],
    39: [.96, .92, .87, .84], 42: [.93, .89, .85, .82], 45: [.95, .90, .86, .83], 48: [.96, .91, .87, .82], 51: [.92, .88, .85, .80],
    54: [.94, .89, .85, .81], 57: [.91, .87, .83, .80], 60: [.93, .88, .84, .79], 63: [.95, .90, .85, .81], 66: [.92, .87, .83, .79],
    69: [.93, .89, .84, .80], 72: [.94, .88, .83, .78], 75: [.90, .86, .82, .78], 78: [.93, .87, .83, .77], 81: [.90, .85, .81, .76],
    84: [.92, .86, .82, .77], 87: [.89, .85, .80, .75], 90: [.91, .86, .81, .76], 93: [.90, .84, .79, .75], 96: [.93, .85, .80, .74],
    99: [.88, .83, .78, .73], 102: [.91, .85, .79, .74], 105: [.89, .83, .78, .72], 108: [.91, .84, .77, .73], 111: [.88, .82, .76, .70],
    114: [.90, .82, .77, .71], 116: [.80, .76, .72, .68, .64, .60, .56],
}
c_lam5_more = {
    1: [.96, .94, .92], 3: [.95, .93, .91], 5: [.97, .94, .91], 7: [.95, .93, .90], 9: [.96, .94, .91], 11: [.97, .93, .90],
    13: [.96, .92, .90], 14: [.95, .93, .89], 16: [.96, .93, .90], 17: [.94, .92, .88], 19: [.95, .92, .89], 20: [.96, .93, .89],
    22: [.94, .91, .87], 23: [.95, .92, .88], 25: [.93, .89, .86], 26: [.95, .91, .87], 28: [.93, .90, .85], 29: [.94, .89, .86],
    31: [.92, .88, .84], 32: [.94, .90, .86], 34: [.92, .88, .85], 37: [.93, .88, .84], 40: [.91, .87, .83], 43: [.93, .88, .83],
    46: [.91, .86, .82], 49: [.92, .87, .83], 52: [.90, .86, .81], 55: [.91, .86, .82], 58: [.89, .85, .80], 61: [.91, .86, .81],
    64: [.89, .84, .80], 67: [.90, .85, .81], 70: [.91, .86, .80], 73: [.88, .84, .79], 76: [.89, .84, .80], 79: [.90, .84, .78],
    82: [.87, .83, .78], 85: [.89, .83, .78], 88: [.87, .82, .77], 91: [.88, .83, .77], 94: [.86, .81, .76], 97: [.87, .82, .76],
    100: [.85, .80, .75], 103: [.87, .81, .75], 106: [.84, .79, .74], 109: [.86, .80, .74], 112: [.83, .78, .72], 115: [.84, .78, .72],
}
c_lam10_pts = {
    0: [.995, .985, .975, .965, .955], 1: [.98, .97, .96], 2: [.985, .975, .965], 3: [.99, .975, .96], 4: [.98, .97], 5: [.99, .98, .97, .96],
    6: [.985, .97], 7: [.99, .975, .965], 8: [.985, .975, .96], 9: [.995, .98, .97], 10: [.985, .97], 11: [.995, .98, .97], 12: [.99, .975],
    13: [.985, .97], 14: [.99, .975, .965], 15: [.995, .98], 16: [.985, .97], 17: [.99, .98, .97], 18: [.985, .975], 19: [.99, .97],
    20: [.985, .975, .96], 21: [.99, .98], 22: [.985, .97], 23: [.99, .98, .97], 24: [.995, .98], 25: [.985, .97], 26: [.99, .98, .965],
    27: [.985, .975], 28: [.99, .975], 29: [.995, .985, .975], 30: [.99, .98], 31: [.985, .975], 32: [.985, .975, .97], 33: [.995, .98],
    34: [.99, .975], 36: [.995, .985, .975], 38: [.99, .98], 40: [.99, .98, .975], 42: [.995, .985], 44: [.995, .985, .97], 46: [.99, .98],
    48: [.99, .98], 50: [.995, .985], 52: [.995, .985, .975], 54: [.99, .98], 56: [.99, .98], 58: [.995, .985], 60: [.995, .985, .98],
    62: [.99, .98], 64: [.99, .98], 66: [.995, .985], 68: [.995, .985], 70: [.99, .98], 72: [.99, .98], 74: [.995, .985], 76: [.995, .985, .975],
    78: [.99, .98], 80: [.99, .98], 82: [.995, .985], 84: [.995, .985], 86: [.99, .98], 88: [.99, .98], 90: [.995, .985], 92: [.995, .985, .975],
    94: [.99, .98], 96: [.99, .98], 98: [.995, .985], 100: [.995, .985], 102: [.99, .98], 104: [.995, .985], 106: [.99, .98], 108: [.99, .98],
    110: [.995, .985], 112: [.995, .985], 114: [.99, .98], 116: [.985, .978, .972, .968],
}

##############
## Labels and colours
##############
baseline_labels = ["Images", "Fourier", "MaCo", "Feature Accentuation"]
baseline_colors = ["#3d76ae", "#d19840", "#cda0c8", "#589c77"]
lambda_labels = [r"$\lambda$ = 0.0", r"$\lambda$ = 0.1", r"$\lambda$ = 0.2", r"$\lambda$ = 0.5", r"$\lambda$ = 10.0"]
lambda_colors = ["#440154", "#414487", "#458190", "#62b57f", "#bcdc4a"]

plt.rcParams["font.family"] = "DejaVu Sans"
plt.rcParams["text.color"] = ".15"
plt.rcParams["axes.labelcolor"] = ".15"
plt.rcParams["xtick.color"] = ".15"
plt.rcParams["ytick.color"] = ".15"

fig = plt.figure(figsize=(W / 100, H / 100), dpi=100)


def new_axes(left, top, right, bottom):
    # box given in picture pixels
    ax = fig.add_axes([left / W, 1 - bottom / H, (right - left) / W, (bottom - top) / H])
    ax.set_facecolor("#eaeaf2")
    for side in ax.spines.values():
        side.set_visible(False)
    ax.grid(True, color="white", linewidth=1.6)
    ax.set_axisbelow(True)
    ax.tick_params(length=0, labelsize=26)
    ax.tick_params(axis="x", pad=18)
    ax.tick_params(axis="y", pad=21)
    return ax


def draw_dots(ax, groups, color, alpha):
    xs = []
    ys = []
    for pts in groups:
        for layer, vals in pts.items():
            xs += [layer] * len(vals)
            ys += vals
    ax.scatter(xs, ys, s=19, color=color, alpha=alpha, linewidths=0)


def draw_line(ax, xs, ys, color, label):
    return ax.plot(xs, ys, color=color, lw=4.4, label=label, solid_capstyle="round")[0]


def draw_title(x, y, pieces):
    # pieces = (text, weight, size, gap after in px), sharing one baseline
    renderer = fig.canvas.get_renderer()
    for txt, weight, size, gap in pieces:
        t = fig.text(x / W, 1 - y / H, txt, fontsize=size, family="Open Sans", weight=weight,
                     color="black", va="baseline", math_fontfamily="stix")
        x = x + t.get_window_extent(renderer).width + gap


def set_labels(ax, ylabel, ylabel_x, xlabel_y, box):
    left, top, right, bottom = box
    ax.set_xlabel("Layer", fontsize=29, va="center")
    ax.set_ylabel(ylabel, fontsize=29, va="center", math_fontfamily="stix")
    ax.xaxis.set_label_coords(0.5, (bottom - xlabel_y) / (bottom - top))
    ax.yaxis.set_label_coords((ylabel_x - left) / (right - left), 0.5)


###############################
# Panel A
box_a = (145, 114, 857, 704)
ax_a = new_axes(*box_a)
groups_a = [[images_pts, images_more], [fourier_pts, fourier_more], [maco_pts, maco_more], [accent_pts, accent_more]]
for groups, col in zip(groups_a, baseline_colors):
    draw_dots(ax_a, groups, col, 0.45)
handles_a = []
for vals, col, lab in zip([images_line, fourier_line, maco_line, accent_line], baseline_colors, baseline_labels):
    handles_a.append(draw_line(ax_a, a_layers, vals, col, lab))
ax_a.set_xlim(-5.5, 121.5)
ax_a.set_ylim(0, 0.5)
ax_a.set_xticks([0, 25, 50, 75, 100])
ax_a.set_yticks([0, 0.1, 0.2, 0.3, 0.4, 0.5])
set_labels(ax_a, "Similarity to class images", 26, 795, box_a)
draw_title(68, 55, [("A.", "bold", 43, 16), ("Circuit similarity baselines", "normal", 43, 0)])

###############################
# Panel B
box_b = (1120, 104, 1802, 703)
ax_b = new_axes(*box_b)
groups_b = [[b_lam0_pts, b_lam0_more], [b_lam1_pts, b_lam1_more], [b_lam2_pts, b_lam2_more], [b_lam5_pts, b_lam5_more],
            [b_lam10_pts, b_lam10_more]]
for groups, col in zip(groups_b, lambda_colors):
    draw_dots(ax_b, groups, col, 0.45)
for vals, col, lab in zip([b_lam0_line, b_lam1_line, b_lam2_line, b_lam5_line, b_lam10_line], lambda_colors, lambda_labels):
    draw_line(ax_b, b_layers, vals, col, lab)
ax_b.set_xlim(-5.6, 121.5)
ax_b.set_ylim(0, 0.5)
ax_b.set_xticks([0, 50, 100])
ax_b.set_yticks([0, 0.1, 0.2, 0.3, 0.4, 0.5])
set_labels(ax_b, "Similarity to class images", 996, 797, box_b)
draw_title(996, 57, [("B.", "bold", 43, 16), ("Effect of", "normal", 43, 14), (r"$\lambda$", "normal", 54, 18),
                     ("on class similarity", "normal", 43, 0)])

###############################
# Panel C
box_c = (2107, 104, 2784, 700)
ax_c = new_axes(*box_c)
groups_c = [[c_lam0_pts, c_lam0_more], [c_lam1_pts, c_lam1_more], [c_lam2_pts, c_lam2_more], [c_lam5_pts, c_lam5_more],
            [c_lam10_pts]]
for groups, col in zip(groups_c, lambda_colors):
    draw_dots(ax_c, groups, col, 0.42)
handles_c = []
handles_c.append(draw_line(ax_c, c_layers, c_lam0_line, lambda_colors[0], lambda_labels[0]))
handles_c.append(draw_line(ax_c, c_layers, c_lam1_line, lambda_colors[1], lambda_labels[1]))
handles_c.append(draw_line(ax_c, c_layers, c_lam2_line, lambda_colors[2], lambda_labels[2]))
handles_c.append(draw_line(ax_c, c_layers, c_lam5_line, lambda_colors[3], lambda_labels[3]))
handles_c.append(draw_line(ax_c, c_lam10_layers, c_lam10_line, lambda_colors[4], lambda_labels[4]))
ax_c.set_xlim(-5.4, 121.6)
ax_c.set_ylim(0.3, 1.0)
ax_c.set_xticks([0, 50, 100])
ax_c.set_yticks([0.3, 0.4, 0.5, 0.6, 0.7, 0.8, 0.9, 1.0])
set_labels(ax_c, r"Similarity to $\;\mathbfit{x}_{\mathbf{0}}\;$ images", 1985, 795, box_c)
draw_title(2000, 57, [("C.", "bold", 43, 14), ("Effect of", "normal", 43, 15), (r"$\lambda$", "normal", 54, 18), ("on", "normal", 43, 15),
                      (r"$\mathbfit{x}_{\mathbf{0}}$", "normal", 45, 17), ("similarity", "normal", 43, 0)])

###############################
# Legends
shadow_opts = {"ox": 4, "oy": -4, "color": "0.35", "alpha": 0.7}
leg_a = fig.legend(handles=handles_a, ncol=2, fontsize=27, loc="upper left", bbox_to_anchor=(69 / W, 1 - 823 / H),
                   borderaxespad=0, shadow=shadow_opts, borderpad=0.5, labelspacing=0.6, handlelength=2.1)
leg_c = fig.legend(handles=handles_c, ncol=3, fontsize=28, loc="upper left", bbox_to_anchor=(1454 / W, 1 - 828 / H),
                   borderaxespad=0, shadow=shadow_opts, borderpad=0.48, labelspacing=0.55)
for leg in [leg_a, leg_c]:
    leg.get_frame().set_linewidth(1.5)
    leg.get_frame().set_alpha(1)

fig.savefig("out.png", dpi=100)
